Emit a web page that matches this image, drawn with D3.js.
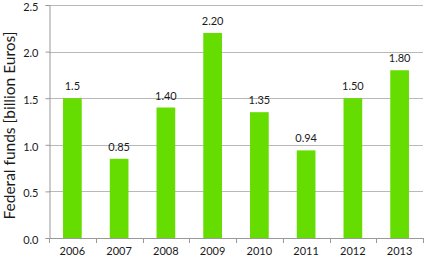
<!DOCTYPE html>
<html>
<head>
<meta charset="utf-8">
<script src="https://cdn.jsdelivr.net/npm/d3@7"></script>
<style>
    body { margin: 0; background: #fff; }
    text { font-family: Lato, "Open Sans", sans-serif; fill: #1a1a1a; }
</style>
</head>
<body>
<div id="chart"></div>
<script>
var years = ["2006", "2007", "2008", "2009", "2010", "2011", "2012", "2013"];
var funds = [1.5, 0.85, 1.40, 2.20, 1.35, 0.94, 1.50, 1.80];
var fundLabels = ["1.5", "0.85", "1.40", "2.20", "1.35", "0.94", "1.50", "1.80"];
var yTicks = [0, 0.5, 1.0, 1.5, 2.0, 2.5];

function init() {
    var w = 425;
    var h = 257;
    var left = 49, right = 423, top = 5, bottom = 238;

    var svg = d3.select("#chart")
        .append("svg")
        .attr("width", w)
        .attr("height", h);

    var xScale = d3.scaleBand()
        .domain(years)
        .range([left, right])
        .paddingInner(0.6)
        .paddingOuter(0.3);

    var yScale = d3.scaleLinear()
        .domain([0, 2.5])
        .range([bottom, top]);

    // Gridlines
    svg.selectAll("line.grid")
        .data(yTicks.slice(1))
        .enter()
        .append("line")
        .attr("class", "grid")
        .attr("x1", left)
        .attr("x2", right)
        .attr("y1", function(d) { return Math.round(yScale(d)) + 0.5; })
        .attr("y2", function(d) { return Math.round(yScale(d)) + 0.5; })
        .attr("stroke", "#b8b8b8")
        .attr("stroke-width", 1);

    // Bars
    svg.selectAll("rect.bar")
        .data(funds)
        .enter()
        .append("rect")
        .attr("class", "bar")
        .attr("x", function(d, i) { return xScale(years[i]); })
        .attr("y", function(d) { return yScale(d); })
        .attr("width", xScale.bandwidth())
        .attr("height", function(d) { return bottom - yScale(d); })
        .attr("fill", "#66dd00");

    // Value labels
    svg.selectAll("text.val")
        .data(funds)
        .enter()
        .append("text")
        .attr("class", "val")
        .attr("x", function(d, i) { return xScale(years[i]) + xScale.bandwidth() / 2; })
        .attr("y", function(d) { return yScale(d) - 8; })
        .attr("text-anchor", "middle")
        .style("font-size", "11px")
        .text(function(d, i) { return fundLabels[i]; });

    // Y axis
    var yAxis = d3.axisLeft(yScale)
        .tickValues(yTicks)
        .tickFormat(d3.format(".1f"))
        .tickSize(4)
        .tickPadding(7);
    var gy = svg.append("g")
        .attr("transform", "translate(" + (left + 0.5) + ",0)")
        .call(yAxis);
    gy.select(".domain").attr("stroke", "#999");
    gy.selectAll(".tick line").attr("stroke", "#999");
    gy.selectAll(".tick text")
        .style("font-size", "11px")
        .attr("dy", "0.48em")
        .attr("fill", "#1a1a1a");

    // X axis (ticks at band boundaries)
    var bandEdges = years.map(function(y) { return xScale(y) - xScale.step() * xScale.paddingInner() / 2; });
    bandEdges.push(right);
    svg.append("line")
        .attr("x1", left)
        .attr("x2", right)
        .attr("y1", bottom + 0.5)
        .attr("y2", bottom + 0.5)
        .attr("stroke", "#999");
    svg.selectAll("line.xtick")
        .data(bandEdges)
        .enter()
        .append("line")
        .attr("class", "xtick")
        .attr("x1", function(d) { return Math.round(d) + 0.5; })
        .attr("x2", function(d) { return Math.round(d) + 0.5; })
        .attr("y1", bottom)
        .attr("y2", bottom + 5)
        .attr("stroke", "#999");
    svg.selectAll("text.xlab")
        .data(years)
        .enter()
        .append("text")
        .attr("class", "xlab")
        .attr("x", function(d) { return xScale(d) + xScale.bandwidth() / 2; })
        .attr("y", 255)
        .attr("text-anchor", "middle")
        .style("font-size", "11px")
        .text(function(d) { return d; });

    // Y axis title
    svg.append("text")
        .attr("transform", "translate(15," + ((top + bottom) / 2 + 4) + ") rotate(-90)")
        .attr("text-anchor", "middle")
        .style("font-size", "15.5px")
        .text("Federal funds [billion Euros]");
}

window.onload = init;
</script>
</body>
</html>
